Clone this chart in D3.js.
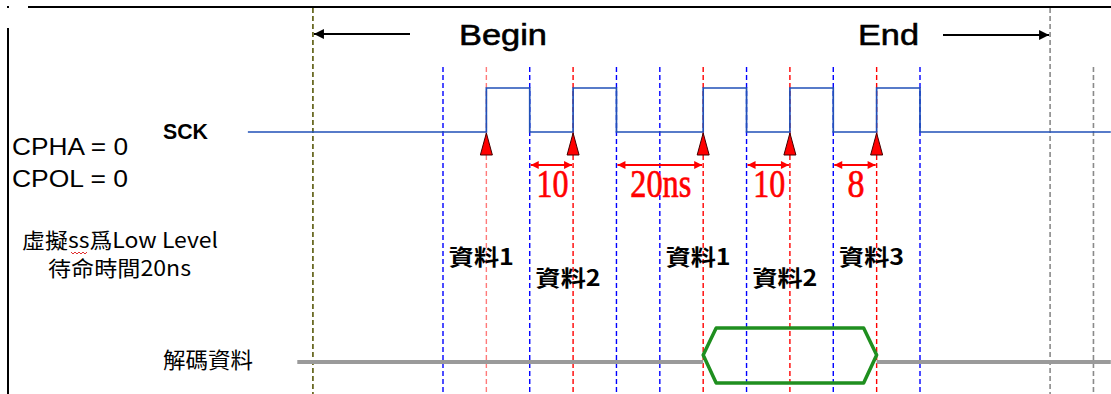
<!DOCTYPE html>
<html><head><meta charset="utf-8">
<script src="https://cdn.jsdelivr.net/npm/d3@7/dist/d3.min.js"></script>
<style>
html,body{margin:0;padding:0;background:#fff;}
svg{display:block;}
</style>
</head><body>
<svg id="c" width="1111" height="394"></svg>
<script>
// ---- data (time in ns) ----
const gridBlue = [0, 10, 20, 25, 35, 45, 55];
const gridRed = [5, 15, 30, 40, 50];
const gridGray = [70, 75];
const beginT = -15;
const endT = 70;
const sckTimes = [-22.5, 5, 10, 15, 20, 30, 35, 40, 45, 50, 55, 77];
const sckLevels = [0, 1, 0, 1, 0, 1, 0, 1, 0, 1, 0, 0];
const sampleEdges = [5, 15, 30, 40, 50];
const dimFrom = [10, 20, 35, 45];
const dimTo = [15, 30, 40, 50];
const dimLabels = ["10", "20ns", "10", "8"];
const dataT = [5, 15, 30, 40, 50];
const dataLabels = ["資料1", "資料2", "資料1", "資料2", "資料3"];
const dataRow = [0, 1, 0, 1, 0];
const busStart = 30, busEnd = 50;
const busLineStart = -16.8, busLineEnd = 77;

const svg = d3.select("#c");
const x = d3.scaleLinear().domain([0, 55]).range([443, 920]);
const ySck = d3.scaleLinear().domain([0, 1]).range([132, 88]);

// frame
svg.append("line").attr("x1", 28).attr("x2", 1111).attr("y1", 7).attr("y2", 7).attr("stroke", "#000").attr("stroke-width", 2);
svg.append("rect").attr("x", 7).attr("y", 6).attr("width", 2).attr("height", 2).attr("fill", "#000");
svg.append("line").attr("x1", 8).attr("x2", 8).attr("y1", 28).attr("y2", 394).attr("stroke", "#000").attr("stroke-width", 2);

// vertical dashed grid
function vline(t, color, y1, w) {
  svg.append("line").attr("x1", x(t)).attr("x2", x(t)).attr("y1", y1).attr("y2", 394)
    .attr("stroke", color).attr("stroke-width", w || 1.4).attr("stroke-dasharray", "5,3");
}
gridBlue.forEach(t => vline(t, "#0000ff", 67));
gridRed.forEach((t, i) => vline(t, i === 0 ? "#ff7a7a" : "#ff0000", 67));
vline(beginT, "#6b6b25", 8, 1.8);
vline(gridGray[0], "#8a8a8a", 8, 1.6);
vline(gridGray[1], "#8a8a8a", 67, 1.6);

// Begin / End
const defs = svg.append("defs");
defs.append("marker").attr("id", "ah").attr("viewBox", "0 0 10 10").attr("refX", 10).attr("refY", 5)
  .attr("markerWidth", 12).attr("markerHeight", 10).attr("markerUnits", "userSpaceOnUse").attr("orient", "auto")
  .append("path").attr("d", "M0,0L10,5L0,10z").attr("fill", "#000");
defs.append("marker").attr("id", "rh").attr("viewBox", "0 0 10 10").attr("refX", 10).attr("refY", 5)
  .attr("markerWidth", 9).attr("markerHeight", 8).attr("markerUnits", "userSpaceOnUse").attr("orient", "auto-start-reverse")
  .append("path").attr("d", "M0,0L10,5L0,10z").attr("fill", "#ff0000");

svg.append("line").attr("x1", 410).attr("x2", x(beginT) + 1).attr("y1", 34).attr("y2", 34)
  .attr("stroke", "#000").attr("stroke-width", 2).attr("marker-end", "url(#ah)");
svg.append("line").attr("x1", 943).attr("x2", x(endT) - 1).attr("y1", 35).attr("y2", 35)
  .attr("stroke", "#000").attr("stroke-width", 2).attr("marker-end", "url(#ah)");
svg.append("text").attr("x", 459).attr("y", 45).text("Begin")
  .attr("font-family", "Liberation Sans, Arial, sans-serif").attr("font-size", 30).attr("fill", "#000")
  .attr("stroke", "#000").attr("stroke-width", 0.6).attr("textLength", 88).attr("lengthAdjust", "spacingAndGlyphs");
svg.append("text").attr("x", 858).attr("y", 45).text("End")
  .attr("font-family", "Liberation Sans, Arial, sans-serif").attr("font-size", 30).attr("fill", "#000")
  .attr("stroke", "#000").attr("stroke-width", 0.6).attr("textLength", 61).attr("lengthAdjust", "spacingAndGlyphs");

// SCK waveform
const sckData = sckTimes.map((t, i) => [t, sckLevels[i]]);
const stepLine = d3.line().curve(d3.curveStepAfter).x(d => x(d[0])).y(d => ySck(d[1]));
svg.append("path").attr("d", stepLine(sckData)).attr("fill", "none").attr("stroke", "#2050b8").attr("stroke-width", 1.7);

// sample triangles
svg.selectAll(".tri").data(sampleEdges).enter().append("path")
  .attr("d", t => `M${x(t)},${ySck(0) + 1}L${x(t) + 6},${ySck(0) + 23}L${x(t) - 6},${ySck(0) + 23}Z`)
  .attr("fill", "#ff0000").attr("stroke", "#400000").attr("stroke-width", 1);

// dimension arrows
dimFrom.forEach((f, i) => {
  const t = dimTo[i];
  svg.append("line").attr("x1", x(f) + 1).attr("x2", x(t) - 1).attr("y1", 165).attr("y2", 165)
    .attr("stroke", "#ff0000").attr("stroke-width", 2)
    .attr("marker-start", "url(#rh)").attr("marker-end", "url(#rh)");
  const w = [32, 61, 32, 17][i];
  svg.append("text").attr("x", (x(f) + x(t)) / 2 + 1).attr("y", 197).attr("text-anchor", "middle")
    .attr("font-family", "Liberation Serif, Times New Roman, serif").attr("font-size", 40)
    .attr("fill", "#ff0000").attr("stroke", "#ff0000").attr("stroke-width", 0.7)
    .attr("textLength", w).attr("lengthAdjust", "spacingAndGlyphs")
    .text(dimLabels[i]);
});

// left labels
const sans = "Liberation Sans, Arial, sans-serif";
svg.append("text").attr("x", 12).attr("y", 155).attr("font-family", sans).attr("font-size", 24)
  .attr("textLength", 116).attr("lengthAdjust", "spacingAndGlyphs").text("CPHA = 0");
svg.append("text").attr("x", 12).attr("y", 187).attr("font-family", sans).attr("font-size", 24)
  .attr("textLength", 116).attr("lengthAdjust", "spacingAndGlyphs").text("CPOL = 0");
svg.append("text").attr("x", 163).attr("y", 139).attr("font-family", sans).attr("font-size", 22).attr("font-weight", "bold")
  .attr("textLength", 45).attr("lengthAdjust", "spacingAndGlyphs").text("SCK");
const cjk = "Noto Sans CJK TC, Noto Sans CJK SC, sans-serif";
svg.append("text").attr("x", 22).attr("y", 248).attr("font-family", cjk).attr("font-size", 21)
  .attr("textLength", 196).attr("lengthAdjust", "spacingAndGlyphs").text("虛擬ss爲Low Level");
// spell-check squiggle under "ss"
svg.append("path").attr("d", "M71,252l2,2l2,-2l2,2l2,-2l2,2l2,-2l2,2l2,-2")
  .attr("fill", "none").attr("stroke", "#e03030").attr("stroke-width", 1);
svg.append("text").attr("x", 48).attr("y", 276).attr("font-family", cjk).attr("font-size", 21)
  .attr("textLength", 143).attr("lengthAdjust", "spacingAndGlyphs").text("待命時間20ns");
svg.append("text").attr("x", 163).attr("y", 368).attr("font-family", cjk).attr("font-size", 22)
  .attr("textLength", 90).attr("lengthAdjust", "spacingAndGlyphs").text("解碼資料");

// data labels
dataT.forEach((t, i) => {
  svg.append("text").attr("x", x(t) - 5).attr("y", dataRow[i] ? 286 : 265).attr("text-anchor", "middle")
    .attr("font-family", cjk).attr("font-size", 22).attr("font-weight", "bold")
    .attr("textLength", 65).attr("lengthAdjust", "spacingAndGlyphs").text(dataLabels[i]);
});

// decoded data bus
svg.append("line").attr("x1", x(busLineStart)).attr("x2", x(busStart)).attr("y1", 362).attr("y2", 362)
  .attr("stroke", "#9a9a9a").attr("stroke-width", 4);
svg.append("line").attr("x1", x(busEnd)).attr("x2", x(busLineEnd)).attr("y1", 362).attr("y2", 362)
  .attr("stroke", "#9a9a9a").attr("stroke-width", 4);
const xa = x(busStart), xb = x(busEnd);
svg.append("path")
  .attr("d", `M${xa},355L${xa + 13},328L${xb - 13},328L${xb},355L${xb - 13},383L${xa + 13},383Z`)
  .attr("fill", "none").attr("stroke", "#1f8f1f").attr("stroke-width", 3.5).attr("stroke-linejoin", "round");
</script>
</body></html>
